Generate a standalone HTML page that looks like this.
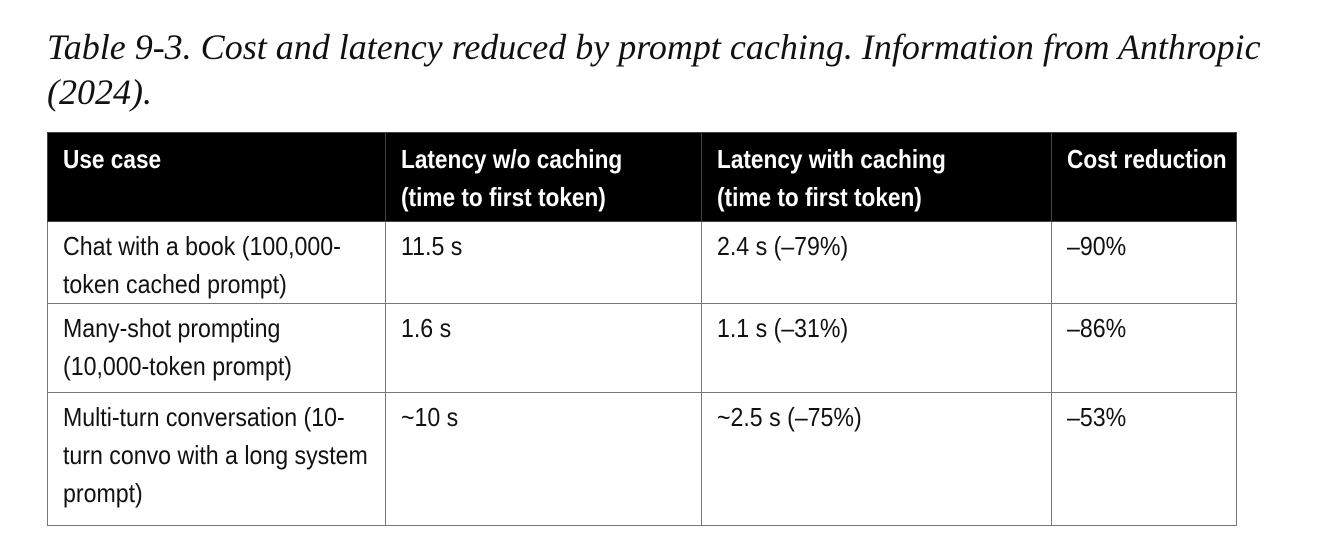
<!DOCTYPE html>
<html><head><meta charset="utf-8">
<style>
html,body{margin:0;padding:0;background:#fff;width:1322px;height:558px;overflow:hidden;position:relative}
.title{position:absolute;left:47px;top:25px;font-family:"Liberation Serif",serif;font-style:italic;font-size:36px;line-height:45px;color:#111;white-space:nowrap}
table{position:absolute;left:47px;top:132px;width:1189px;border-collapse:collapse;table-layout:fixed;font-family:"Liberation Sans",sans-serif;font-size:26px;line-height:38px;color:#111}
td,th{border:1px solid #777;vertical-align:top;padding:5px 0 0 15px;text-align:left;box-sizing:border-box;white-space:nowrap;overflow:hidden}
th{background:#000;color:#fff;font-weight:bold;border-color:#444;padding-top:7px}
.s{display:inline-block;transform:scaleX(0.89);transform-origin:0 0}
th .s{transform:scaleX(0.87)}
</style></head><body>
<div class="title">Table 9-3. Cost and latency reduced by prompt caching. Information from Anthropic<br>(2024).</div>
<table>
<colgroup><col style="width:338px"><col style="width:316px"><col style="width:350px"><col style="width:185px"></colgroup>
<tr style="height:89px">
<th><span class="s">Use case</span></th>
<th><span class="s">Latency w/o caching<br>(time to first token)</span></th>
<th><span class="s">Latency with caching<br>(time to first token)</span></th>
<th><span class="s">Cost reduction</span></th>
</tr>
<tr style="height:81px">
<td><span class="s">Chat with a book (100,000-<br>token cached prompt)</span></td>
<td><span class="s">11.5 s</span></td>
<td><span class="s">2.4 s (–79%)</span></td>
<td><span class="s">–90%</span></td>
</tr>
<tr style="height:89px">
<td><span class="s">Many-shot prompting<br>(10,000-token prompt)</span></td>
<td><span class="s">1.6 s</span></td>
<td><span class="s">1.1 s (–31%)</span></td>
<td><span class="s">–86%</span></td>
</tr>
<tr style="height:133px">
<td><span class="s">Multi-turn conversation (10-<br>turn convo with a long system<br>prompt)</span></td>
<td><span class="s">~10 s</span></td>
<td><span class="s">~2.5 s (–75%)</span></td>
<td><span class="s">–53%</span></td>
</tr>
</table>
</body></html>
